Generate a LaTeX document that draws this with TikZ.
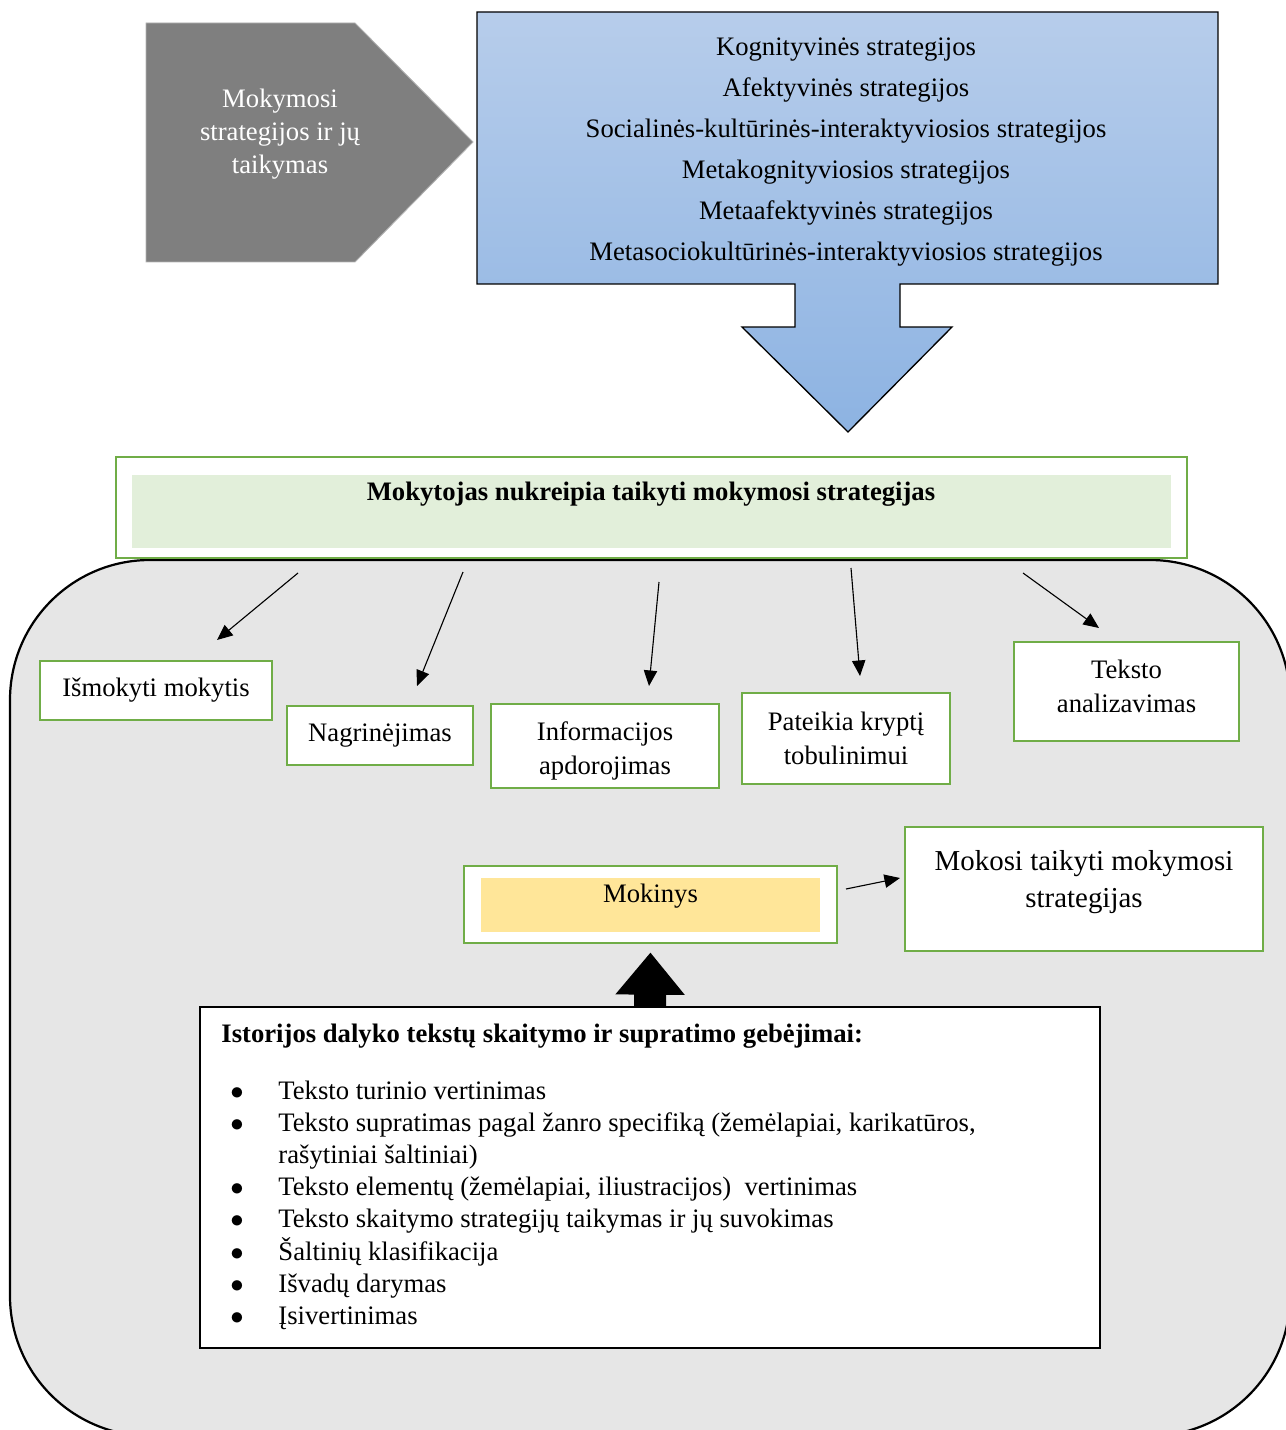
\documentclass[tikz,border=0pt]{standalone}
\usepackage{fontspec}
\setmainfont{Liberation Serif}
\usetikzlibrary{arrows.meta}
\usetikzlibrary{positioning}

\definecolor{boxgreen}{RGB}{112,173,71}
\definecolor{palegreen}{RGB}{226,239,218}
\definecolor{pentgray}{RGB}{127,127,127}
\definecolor{bggray}{RGB}{230,230,230}
\definecolor{paleyellow}{RGB}{255,230,153}
\definecolor{bluetop}{RGB}{183,205,235}
\definecolor{bluebot}{RGB}{141,179,226}

\newdimen\px \px=0.45pt
\newcommand{\itembul}{$\bullet$}

\tikzset{
  greenbox/.style={draw=boxgreen, line width=1.3pt, fill=white, align=center, inner sep=0pt, font=\fontsize{12}{15.3}\selectfont},
  thinarr/.style={-{Triangle[length=7pt, width=6pt]}, line width=0.5pt},
  fatarr/.style={line width=14.4pt, -{Triangle[length=19pt, width=30pt]}},
}

\begin{document}
\begin{tikzpicture}[x=0.45pt, y=-0.45pt, font=\fontsize{12}{14.4}\selectfont]
\useasboundingbox (0,0) rectangle (1285,1430);

% strategies
\draw[fill=pentgray, draw=gray!60, line width=0.4pt] (146,23) -- (355,23) -- (473,142) -- (355,262) -- (146,262) -- cycle;
\node[text=white, align=center, font=\fontsize{12}{15}\selectfont] (topic) at (280,134) {Mokymosi\\ strategijos ir jų\\ taikymas};

\draw[top color=bluetop, bottom color=bluebot, line width=0.6pt] (477,12) -- (1218,12) -- (1218,284) -- (900,284) -- (900,327) -- (952,327) -- (848,432) -- (742,327) -- (795,327) -- (795,284) -- (477,284) -- cycle;
\node[align=center, font=\fontsize{12}{18.5}\selectfont] (kinds) at (846,152) {Kognityvinės strategijos\\
  Afektyvinės strategijos\\
  Socialinės-kultūrinės-interaktyviosios strategijos\\
  Metakognityviosios strategijos\\
  Metaafektyvinės strategijos\\
  Metasociokultūrinės-interaktyviosios strategijos};

% panel
\draw[fill=bggray, line width=1pt, rounded corners=63pt] (10,560) rectangle (1290,1436);

\node[draw=boxgreen, line width=0.6pt, fill=white, minimum width=1071\px, minimum height=101\px, inner sep=0pt] (teacher) at (651.5,507.5) {};
\node[fill=palegreen, minimum width=1039\px, minimum height=73\px, inner sep=0pt] (teacherfill) at (651.5,511.5) {};
\node[font=\fontsize{12}{14.4}\bfseries] (teachertxt) at (651,494) {Mokytojas nukreipia taikyti mokymosi strategijas};

\node[greenbox, minimum width=232\px, minimum height=59\px] (learn) at (156,690.5) {Išmokyti mokytis};
\node[greenbox, minimum width=186\px, minimum height=59\px] (exam) at (380,735.5) {Nagrinėjimas};
\node[greenbox, minimum width=228\px, minimum height=84\px] (info) at (605,746) {};
\node[align=center, font=\fontsize{12}{15.3}\selectfont] (infotxt) at (605,751) {Informacijos\\ apdorojimas};
\node[greenbox, minimum width=208\px, minimum height=91\px] (dir) at (846,738.5) {Pateikia kryptį\\ tobulinimui};
\node[greenbox, minimum width=225\px, minimum height=99\px] (anal) at (1126.5,691.5) {};
\node[align=center, font=\fontsize{12}{15.3}\selectfont] (analtxt) at (1126.5,686.5) {Teksto\\ analizavimas};

\coordinate (a1) at (298,573); \coordinate (b1) at (217,640);
\coordinate (a2) at (463,572); \coordinate (b2) at (417,686);
\coordinate (a3) at (659,582); \coordinate (b3) at (649,686);
\coordinate (a4) at (851,568); \coordinate (b4) at (860,676);
\coordinate (a5) at (1023,573); \coordinate (b5) at (1099,628);
\draw[thinarr] (a1) -- (b1);
\draw[thinarr] (a2) -- (b2);
\draw[thinarr] (a3) -- (b3);
\draw[thinarr] (a4) -- (b4);
\draw[thinarr] (a5) -- (b5);

% student
\node[greenbox, minimum width=373\px, minimum height=77\px] (pupil) at (650.5,904.5) {};
\node[fill=paleyellow, minimum width=339\px, minimum height=54\px, inner sep=0pt] (pupilfill) at (650.5,905) {};
\node (pupiltxt) at (650.5,896) {Mokinys};

\node[greenbox, minimum width=358\px, minimum height=124\px] (applies) at (1084,889) {};
\node[align=center, font=\fontsize{13}{16.6}\selectfont] (appliestxt) at (1084,882) {Mokosi taikyti mokymosi\\ strategijas};

\coordinate (a6) at (846,889); \coordinate (b6) at (900,878);
\draw[thinarr] (a6) -- (b6);

% skills
\node[draw, line width=0.8pt, fill=white, minimum width=900\px, minimum height=341\px, inner sep=0pt] (skills) at (650,1177.5) {};
\node[anchor=west, inner sep=0pt, font=\fontsize{12}{14.4}\bfseries] (skillstitle) at (221,1036) {Istorijos dalyko tekstų skaitymo ir supratimo gebėjimai:};
\node[anchor=north west, inner sep=0pt] (skillslist) at (230,1077) {\begin{tabular}{@{}p{21.6pt}@{}l@{}}
\itembul & Teksto turinio vertinimas\\
\itembul & Teksto supratimas pagal žanro specifiką (žemėlapiai, karikatūros,\\
 & rašytiniai šaltiniai)\\
\itembul & Teksto elementų (žemėlapiai, iliustracijos)\ \ vertinimas\\
\itembul & Teksto skaitymo strategijų taikymas ir jų suvokimas\\
\itembul & Šaltinių klasifikacija\\
\itembul & Išvadų darymas\\
\itembul & Įsivertinimas
\end{tabular}};

\draw[fatarr, shorten >=3.6pt] (skills.north) -- (pupil.south);
\end{tikzpicture}
\end{document}
